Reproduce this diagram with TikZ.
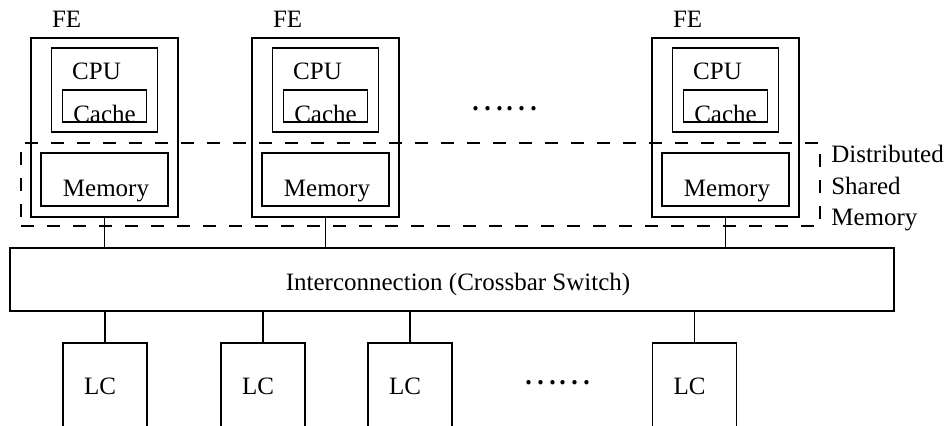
\documentclass[tikz,border=0pt]{standalone}
\usepackage{fontspec}
\setmainfont{Liberation Serif}
\newfontfamily\cjk{Noto Sans CJK SC}
\begin{document}
\begin{tikzpicture}[%
                x=0.5pt, y=-0.5pt,
                line width=0.65pt,
                every node/.style={font=\fontsize{12.5}{15.75}\selectfont, inner sep=0pt},
                mybox/.style 2 args={draw, minimum width=#1, minimum height=#2},
                mydash/.style={draw, dash pattern=on 6.5pt off 6.5pt},
                mydots/.style={font=\cjk\fontsize{16}{16}\selectfont}
        ]
            \useasboundingbox (0,0) rectangle (947,425);
            \clip (0,0) rectangle (947,425);
            \node [mybox={442pt}{31.5pt}] (ic) at (452,279.5) {};
            \node [anchor=base] (ictext) at ([xshift=3pt,yshift=-21.5pt]ic.north) {Interconnection (Crossbar Switch)};
            \node [mydash, minimum width=399.5pt, minimum height=41.5pt] (dsm) at (420.5,184.5) {};
            \node [anchor=west, align=left, xshift=5pt, yshift=-2pt] (dsmtext) at (dsm.east) {Distributed\\Shared\\Memory};
            \foreach \n/\x in {1/104.5, 2/325.5, 3/725.5} {
                \node [mybox={73.5pt}{89.5pt}] (fe\n) at (\x,127.5) {};
                \node [mybox={53pt}{42pt}] (cpu\n) at (\x,90) {};
                \node [mybox={42pt}{16pt}] (cache\n) at (\x,106) {};
                \node [mybox={63.5pt}{26.5pt}] (mem\n) at (\x,179.5) {};
                \node [anchor=base west] (fetext\n) at ([xshift=10.5pt,yshift=5pt]fe\n.north west) {FE};
                \node [anchor=base] (cputext\n) at ([xshift=-4pt,yshift=-16pt]cpu\n.north) {CPU};
                \node [anchor=base] (cachetext\n) at (cache\n.south) {Cache};
                \node [anchor=base] (memtext\n) at ([xshift=0.75pt,yshift=5pt]mem\n.south) {Memory};
                \draw (fe\n.south) -- (fe\n.south |- ic.north);
            }
            \foreach \n/\x in {1/105, 2/263, 3/410, 4/694.5} {
                \node [mybox={42pt}{48.5pt}] (lc\n) at (\x,391.5) {};
                \node [anchor=base] (lctext\n) at ([xshift=-2.5pt,yshift=-26pt]lc\n.north) {LC};
                \draw (lc\n.north) -- (lc\n.north |- ic.south);
            }
            \node [mydots] (dotstop) at (504,109) {……};
            \node [mydots] (dotsbottom) at (557,383) {……};
        \end{tikzpicture}
\end{document}
